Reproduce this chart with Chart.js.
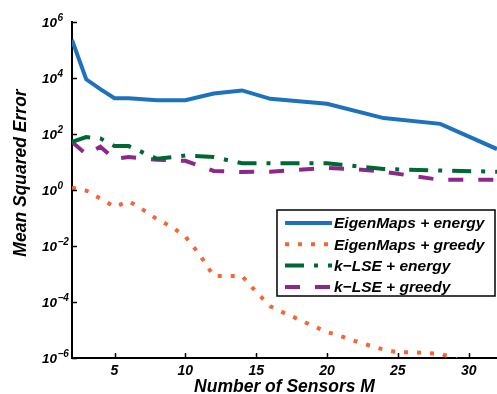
<!DOCTYPE html>
<html>
<head>
<meta charset="utf-8">
<script src="https://cdn.jsdelivr.net/npm/chart.js@4/dist/chart.umd.min.js"></script>
<style>
  body { margin: 0; background: #fff; }
  canvas { display: block; }
</style>
</head>
<body>
<canvas id="myChart" width="497" height="394"></canvas>
<script>
const canvas = document.getElementById('myChart').getContext('2d');

// series values
const seriesNames = ['EigenMaps + energy', 'EigenMaps + greedy', 'k\u2212LSE + energy', 'k\u2212LSE + greedy'];

const xEigenEnergy = [2, 3, 4, 5, 6, 8, 10, 12, 14, 16, 20, 24, 28, 32];
const yEigenEnergy = [2.3e5, 9000, 4000, 1900, 1900, 1600, 1600, 2800, 3600, 1800, 1200, 370, 230, 29];

const xEigenGreedy = [2, 3, 4, 5, 6, 7, 8, 9, 10, 11, 12, 13, 14, 15, 16, 17, 18, 19, 20, 21, 22, 23, 24, 25, 26, 27, 28, 29, 30, 31, 32];
const yEigenGreedy = [1.2, 0.95, 0.5, 0.25, 0.4, 0.2, 0.09, 0.05, 0.022, 0.005, 8.5e-4, 8.5e-4, 8.5e-4, 2.3e-4, 7e-5, 4e-5, 2.4e-5, 1.4e-5, 8.5e-6, 6e-6, 4e-6, 2.8e-6, 2e-6, 1.6e-6, 1.6e-6, 1.5e-6, 1.4e-6, 1e-6, 4e-7, 2e-7, 1e-7];

const xLseEnergy = [2, 3, 4, 5, 6, 8, 10, 12, 14, 16, 20, 21, 24, 28, 32];
const yLseEnergy = [52, 78, 70, 37, 37, 13, 17, 15, 9, 9, 9, 8, 5.6, 5, 4.5];

const xLseGreedy = [2, 3, 4, 5, 6, 8, 10, 12, 14, 16, 20, 22, 24, 26, 28, 32];
const yLseGreedy = [52, 19, 35, 13, 15, 12, 11, 4.8, 4.4, 4.5, 6.2, 5.5, 4.5, 3.2, 2.3, 2.3];

// axis ticks
const xTicks = [5, 10, 15, 20, 25, 30];
const yTickExponents = [-6, -4, -2, 0, 2, 4, 6];

const colors = ['rgb(30,114,189)', 'rgb(245,102,52)', 'rgb(0,102,51)', 'rgb(140,40,140)'];
const dashes = [[], [4, 9], [19, 10, 4, 10], [15, 15]];

function pairs(xs, ys) {
    return xs.map((x, i) => ({ x: x, y: ys[i] }));
}

const seriesData = [
    pairs(xEigenEnergy, yEigenEnergy),
    pairs(xEigenGreedy, yEigenGreedy),
    pairs(xLseEnergy, yLseEnergy),
    pairs(xLseGreedy, yLseGreedy)
];

const FONT = '"Liberation Sans", Arial, sans-serif';

// inward ticks, superscript y labels, y title and the boxed legend
const extras = {
    id: 'extras',
    afterDraw(chart) {
        const ctx = chart.ctx;
        const xs = chart.scales.x;
        const ys = chart.scales.y;
        const area = chart.chartArea;
        ctx.save();

        ctx.strokeStyle = '#000';
        ctx.lineWidth = 1.5;
        ctx.beginPath();
        xTicks.forEach(v => {
            const px = Math.round(xs.getPixelForValue(v)) + 0.5;
            ctx.moveTo(px, area.bottom);
            ctx.lineTo(px, area.bottom - 5);
        });
        yTickExponents.forEach(e => {
            const py = Math.round(ys.getPixelForValue(Math.pow(10, e))) + 0.5;
            ctx.moveTo(area.left, py);
            ctx.lineTo(area.left + 5, py);
        });
        ctx.stroke();

        // y tick labels as 10 with a raised exponent
        ctx.fillStyle = '#000';
        ctx.textAlign = 'left';
        ctx.textBaseline = 'alphabetic';
        yTickExponents.forEach(e => {
            const py = ys.getPixelForValue(Math.pow(10, e));
            ctx.font = 'italic bold 13.5px ' + FONT;
            ctx.fillText('10', 42, py + 5);
            const w = ctx.measureText('10').width;
            ctx.font = 'italic bold 10px ' + FONT;
            ctx.fillText(e < 0 ? '\u2212' + Math.abs(e) : String(e), 42 + w + 0.5, py - 1);
        });

        // y title
        ctx.save();
        ctx.translate(21, 173);
        ctx.rotate(-Math.PI / 2);
        ctx.font = 'italic bold 17.5px ' + FONT;
        ctx.textAlign = 'center';
        ctx.textBaseline = 'middle';
        ctx.fillText('Mean Squared Error', 0, 0);
        ctx.restore();

        // legend box
        const lx = 277, ly = 210, lw = 218, lh = 86;
        ctx.fillStyle = '#fff';
        ctx.fillRect(lx, ly, lw, lh);
        ctx.strokeStyle = '#000';
        ctx.lineWidth = 1.5;
        ctx.strokeRect(lx, ly, lw, lh);

        ctx.font = 'italic bold 15.5px ' + FONT;
        ctx.textAlign = 'left';
        ctx.textBaseline = 'middle';
        chart.data.datasets.forEach((ds, i) => {
            const ry = 223 + i * 21.3;
            ctx.strokeStyle = ds.borderColor;
            ctx.lineWidth = ds.borderWidth;
            ctx.setLineDash(ds.borderDash);
            ctx.lineCap = 'butt';
            ctx.beginPath();
            ctx.moveTo(285, ry);
            ctx.lineTo(332, ry);
            ctx.stroke();
            ctx.setLineDash([]);
            ctx.fillStyle = '#000';
            ctx.fillText(ds.label, 334, ry + 1);
        });
        ctx.restore();
    }
};

const data = {
    datasets: seriesNames.map((name, i) => ({
        label: name,
        data: seriesData[i],
        borderColor: colors[i],
        backgroundColor: colors[i],
        borderWidth: 4,
        borderDash: dashes[i],
        borderCapStyle: 'butt',
        pointRadius: 0,
        tension: 0,
        fill: false,
        clip: 0
    }))
};

const config = {
    type: 'line',
    data: data,
    options: {
        responsive: false,
        animation: false,
        layout: { padding: { top: 22, right: 0, left: 0, bottom: 0 } },
        plugins: {
            legend: { display: false },
            tooltip: { enabled: false }
        },
        scales: {
            x: {
                type: 'linear',
                min: 2,
                max: 32,
                grid: { display: false, drawTicks: false },
                border: { display: true, color: '#000', width: 2 },
                ticks: {
                    color: '#000',
                    padding: 5,
                    maxRotation: 0,
                    font: { family: FONT, size: 14, style: 'italic', weight: 'bold' }
                },
                afterBuildTicks(scale) {
                    scale.ticks = xTicks.map(v => ({ value: v }));
                },
                title: {
                    display: true,
                    text: 'Number of Sensors M',
                    color: '#000',
                    padding: { top: 0, bottom: -4 },
                    font: { family: FONT, size: 17.5, style: 'italic', weight: 'bold' }
                },
                afterFit(scale) {
                    scale.height = 36;
                    scale.paddingRight = 0;
                }
            },
            y: {
                type: 'logarithmic',
                min: 1e-6,
                max: 1e6,
                grid: { display: false, drawTicks: false },
                border: { display: true, color: '#000', width: 2 },
                ticks: { display: false },
                afterBuildTicks(scale) {
                    scale.ticks = yTickExponents.map(e => ({ value: Math.pow(10, e) }));
                },
                afterFit(scale) { scale.width = 72; }
            }
        }
    },
    plugins: [extras]
};

// Render the chart
new Chart(canvas, config);
</script>
</body>
</html>
